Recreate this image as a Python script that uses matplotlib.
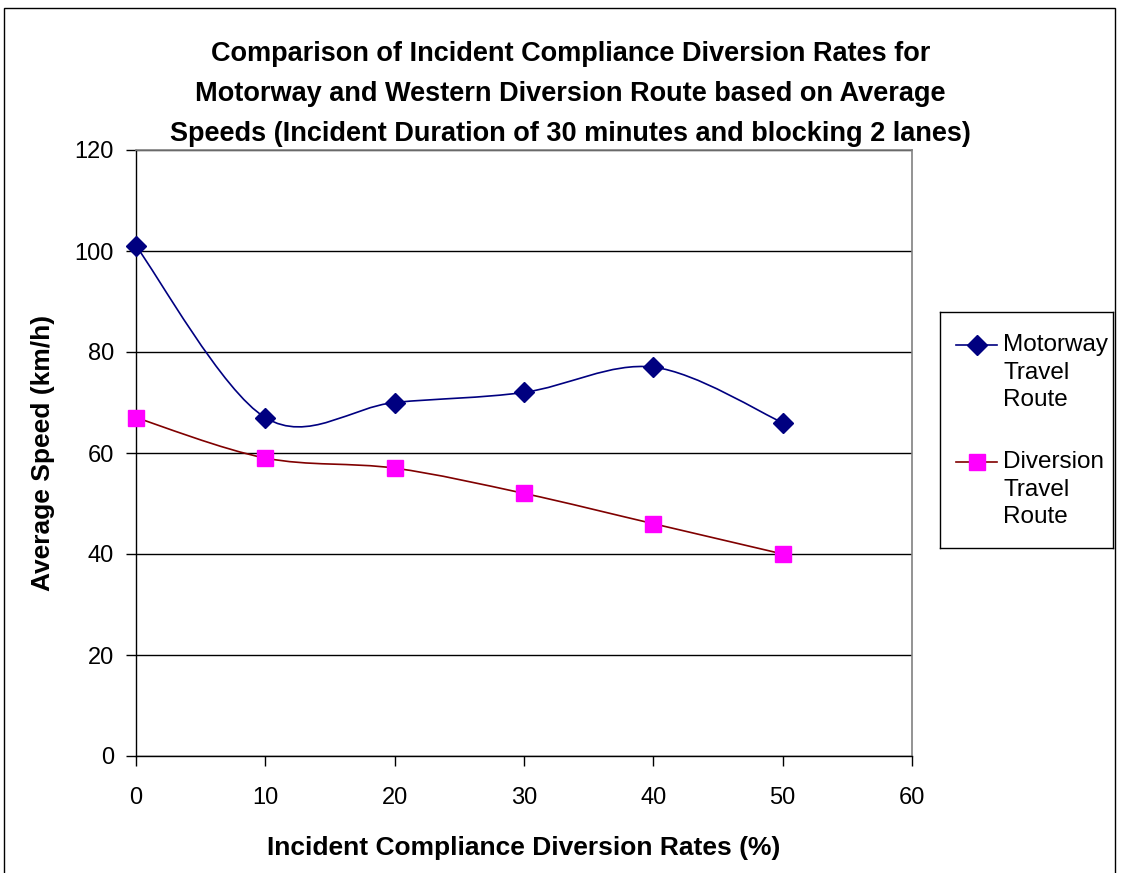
import numpy as np
import matplotlib.pyplot as plt
from matplotlib.path import Path
from matplotlib.patches import PathPatch, Rectangle

plt.rcParams['font.family'] = ['Liberation Sans', 'DejaVu Sans']

rates = [0, 10, 20, 30, 40, 50]
motorway = [101, 67, 70, 72, 77, 66]
diversion = [67, 59, 57, 52, 46, 40]

title = ("Comparison of Incident Compliance Diversion Rates for\n"
         "Motorway and Western Diversion Route based on Average\n"
         "Speeds (Incident Duration of 30 minutes and blocking 2 lanes)")


def smooth_path(xs, ys):
    """Cubic Bezier spline through the points (Catmull-Rom style smoothing)."""
    p = np.column_stack([xs, ys]).astype(float)
    n = len(p)
    verts = [p[0]]
    codes = [Path.MOVETO]
    for i in range(n - 1):
        p0 = p[i - 1] if i > 0 else p[i]
        p1 = p[i]
        p2 = p[i + 1]
        p3 = p[i + 2] if i + 2 < n else p[i + 1]
        c1 = p1 + (p2 - p0) / 6.0
        c2 = p2 - (p3 - p1) / 6.0
        verts += [c1, c2, p2]
        codes += [Path.CURVE4] * 3
    return Path(verts, codes)


W, H = 1123, 873
fig = plt.figure(figsize=(W / 100, H / 100), dpi=100)
fig.patch.set_facecolor('white')
fig.add_artist(Rectangle((4 / W, -0.01), 1111 / W, 1 - 8 / H + 0.01,
                         transform=fig.transFigure, fill=False,
                         edgecolor='black', linewidth=1.0))

ax = fig.add_axes([136 / W, 1 - 756 / H, (912 - 136) / W, (756 - 150) / H])
ax.set_xlim(0, 60)
ax.set_ylim(0, 120)
ax.set_xticks(range(0, 61, 10))
ax.set_yticks(range(0, 121, 20))
ax.grid(axis='y', color='black', linewidth=1.0)
ax.set_axisbelow(True)
for s in ('top', 'right'):
    ax.spines[s].set_color('#808080')
    ax.spines[s].set_linewidth(1.2)
for s in ('left', 'bottom'):
    ax.spines[s].set_color('black')
    ax.spines[s].set_linewidth(1.0)
ax.tick_params(axis='both', direction='out', length=7, width=1, labelsize=17)
ax.tick_params(axis='x', pad=15)
ax.tick_params(axis='y', pad=9)

ax.add_patch(PathPatch(smooth_path(rates, motorway), fill=False,
                       edgecolor='#000080', linewidth=1.2, zorder=3))
ax.add_patch(PathPatch(smooth_path(rates, diversion), fill=False,
                       edgecolor='#800000', linewidth=1.2, zorder=3))
ax.plot(rates, motorway, linestyle='none', marker='D', markersize=10.5,
        color='#000080', zorder=4, clip_on=False)
ax.plot(rates, diversion, linestyle='none', marker='s', markersize=11,
        color='#FF00FF', zorder=4, clip_on=False)

ax.set_xlabel('Incident Compliance Diversion Rates (%)', fontsize=19,
              fontweight='bold', labelpad=20)
ax.set_ylabel('Average Speed (km/h)', fontsize=19, fontweight='bold', labelpad=14)
fig.text(0.508, 1 - 94 / H, title, ha='center', va='center', fontsize=19.5,
         fontweight='bold', linespacing=1.68)

# Legend
legend_ax = fig.add_axes([940 / W, 1 - 548 / H, (1113 - 940) / W, (548 - 312) / H])
legend_ax.set_xlim(0, 173)
legend_ax.set_ylim(236, 0)
legend_ax.set_xticks([])
legend_ax.set_yticks([])
for s in legend_ax.spines.values():
    s.set_color('black')
    s.set_linewidth(1.0)
legend_ax.plot([16, 57], [33, 33], color='#000080', linewidth=1.2)
legend_ax.plot([37], [33], marker='D', markersize=10.5, color='#000080')
legend_ax.text(63, 22, 'Motorway\nTravel\nRoute', fontsize=17.5, va='top',
               linespacing=1.33)
legend_ax.plot([16, 57], [150, 150], color='#800000', linewidth=1.2)
legend_ax.plot([37], [150], marker='s', markersize=11, color='#FF00FF')
legend_ax.text(63, 139, 'Diversion\nTravel\nRoute', fontsize=17.5, va='top',
               linespacing=1.33)

fig.savefig('out.png', dpi=100)
